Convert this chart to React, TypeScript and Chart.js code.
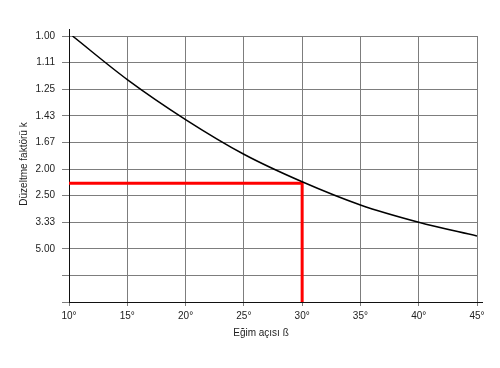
import React, { useEffect, useRef } from "react";
import { Chart, registerables } from "chart.js";

Chart.register(...registerables);

// Eğim açısı ß (degrees)
const angles = [10.3, 15, 20, 25, 30, 35, 40, 45];
// Düzeltme faktörü k
const kValues = [1.0, 1.196, 1.458, 1.8, 2.212, 2.74, 3.333, 4.03];

// y axis is linear in 1/k; tick positions and their k labels
const yTickPositions = [1.0, 0.9, 0.8, 0.7, 0.6, 0.5, 0.4, 0.3, 0.2, 0.1, 0.0];
const yTickLabels = ["1.00", "1.11", "1.25", "1.43", "1.67", "2.00", "2.50", "3.33", "5.00", "", ""];
const xTicks = [10, 15, 20, 25, 30, 35, 40, 45];

// example reading (red guide lines)
const exampleAngle = 30;
const exampleK = 2.24;

const xTitle = "Eğim açısı ß";
const yTitle = "Düzeltme faktörü k";

const FONT = "'Liberation Sans', Arial, Helvetica, sans-serif";

export default function App() {
  const ref = useRef<HTMLCanvasElement | null>(null);

  useEffect(() => {
    if (!ref.current) return;
    const curve = angles.map((a, i) => ({ x: a, y: 1 / kValues[i] }));
    const ev = 1 / exampleK;
    const guide = [
      { x: 10, y: ev },
      { x: exampleAngle, y: ev },
      { x: exampleAngle, y: 0 },
    ];

    const extras = {
      id: "extras",
      afterDraw(chart: any) {
        const { ctx, chartArea } = chart;
        ctx.save();
        ctx.strokeStyle = "#111";
        ctx.lineWidth = 1;
        ctx.beginPath();
        ctx.moveTo(chartArea.left + 0.5, chartArea.top - 7);
        ctx.lineTo(chartArea.left + 0.5, chartArea.top);
        ctx.moveTo(chartArea.right, chartArea.bottom + 0.5);
        ctx.lineTo(chartArea.right + 6, chartArea.bottom + 0.5);
        ctx.stroke();
        ctx.fillStyle = "#222";
        ctx.font = `10px ${FONT}`;
        ctx.textAlign = "center";
        ctx.textBaseline = "middle";
        ctx.fillText(xTitle, 261, 333);
        ctx.translate(24, 164);
        ctx.rotate(-Math.PI / 2);
        ctx.fillText(yTitle, 0, 0);
        ctx.restore();
      },
    };

    const chart = new Chart(ref.current, {
      type: "line",
      data: {
        datasets: [
          {
            data: guide,
            borderColor: "#ff0000",
            borderWidth: 3,
            pointRadius: 0,
            tension: 0,
            order: 2,
          },
          {
            data: curve,
            borderColor: "#000",
            borderWidth: 1.5,
            pointRadius: 0,
            cubicInterpolationMode: "monotone",
            order: 1,
          },
        ],
      },
      options: {
        animation: false,
        responsive: false,
        layout: { padding: { top: 36, right: 23, left: 0, bottom: 0 } },
        plugins: { legend: { display: false }, tooltip: { enabled: false } },
        scales: {
          x: {
            type: "linear",
            min: 10,
            max: 45,
            afterBuildTicks: (s: any) => {
              s.ticks = xTicks.map((v) => ({ value: v }));
            },
            afterFit: (s: any) => {
              s.height = 66;
            },
            ticks: {
              callback: (v: any) => `${v}°`,
              color: "#222",
              font: { family: FONT, size: 10 },
              padding: 4,
              maxRotation: 0,
            },
            grid: { color: "#7d7d7d", lineWidth: 1, tickLength: 4, tickColor: "#7d7d7d" },
            border: { color: "#111", width: 1 },
          },
          y: {
            type: "linear",
            min: 0,
            max: 1,
            afterBuildTicks: (s: any) => {
              s.ticks = yTickPositions.map((v) => ({ value: v }));
            },
            afterFit: (s: any) => {
              s.width = 69;
            },
            ticks: {
              callback: (_v: any, i: number) => yTickLabels[i],
              color: "#222",
              font: { family: FONT, size: 10 },
              padding: 7,
            },
            grid: { color: "#7d7d7d", lineWidth: 1, tickLength: 7, tickColor: "#7d7d7d" },
            border: { color: "#111", width: 1 },
          },
        },
      },
      plugins: [extras],
    } as any);
    return () => chart.destroy();
  }, []);

  return (
    <div style={{ position: "fixed", left: 0, top: 0, width: 500, height: 368, background: "#fff" }}>
      <canvas ref={ref} width={500} height={368} style={{ width: 500, height: 368 }} />
    </div>
  );
}
